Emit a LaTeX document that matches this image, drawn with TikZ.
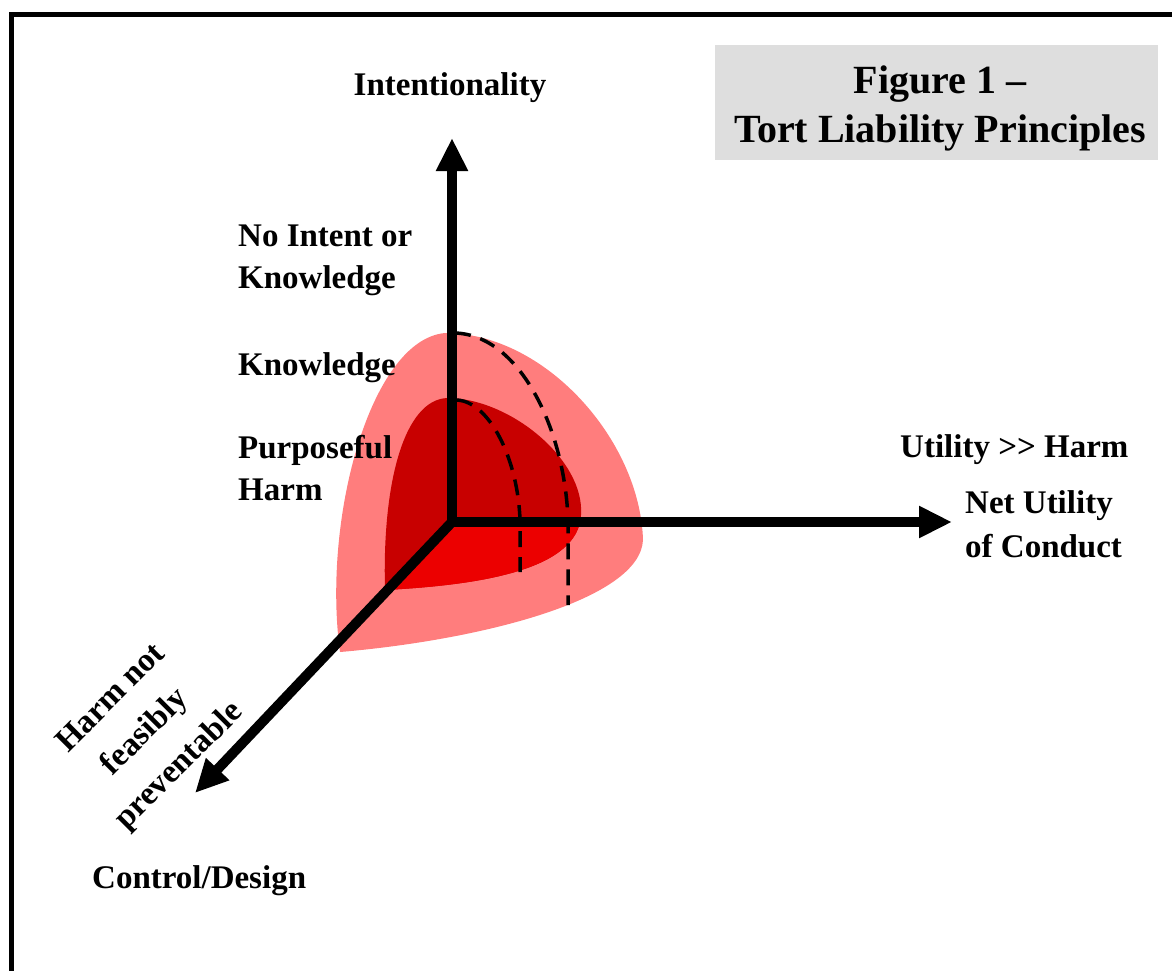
\documentclass[tikz,border=0pt]{standalone}
\usepackage{fontspec}
\setmainfont{Liberation Serif}
\usetikzlibrary{arrows.meta}
\definecolor{outerpink}{RGB}{255,125,125}
\definecolor{innerred}{RGB}{200,0,0}
\definecolor{facered}{RGB}{236,0,0}
\definecolor{boxgray}{RGB}{222,222,222}
\newcommand{\innerblob}{(447,398) .. controls (510,398) and (585,460) .. (581,515) .. controls (578,570) and (480,585) .. (385,590) .. controls (382,480) and (405,400) .. (447,398) -- cycle}

\begin{document}
\begin{tikzpicture}[x=1pt,y=-1pt,
		lbl/.style={font=\fontsize{33}{42}\selectfont\bfseries, inner sep=0pt, anchor=base west},
		ttl/.style={font=\fontsize{40}{49}\selectfont\bfseries, inner sep=0pt, anchor=base},
		axis/.style={line width=10pt, line cap=round, -{Triangle[length=33pt,width=30pt]}},
		level/.style={line width=3.5pt, dash pattern=on 16pt off 10pt}]
		\useasboundingbox (0,0) rectangle (1172,970);
		\clip (0,0) rectangle (1172,970);
		\draw[line width=5.5pt] (11.5,14.5) rectangle (1300,1100);

		% title box
		\node[fill=boxgray, minimum width=443pt, minimum height=115pt, inner sep=0pt] (title) at (936.5,102.5) {};
		\node[ttl] (fig) at (940,93) {Figure 1 --};
		\node[ttl] (tlp) at (940,142) {Tort Liability Principles};

		% regions
		\fill[outerpink] (445,333) .. controls (545,333) and (640,440) .. (643,540) .. controls (640,600) and (480,640) .. (340,652) .. controls (322,520) and (370,340) .. (445,333) -- cycle;
		\fill[innerred] \innerblob;
		\begin{scope}
			\clip \innerblob;
			\fill[facered] (452,522) -- (700,522) -- (700,800) -- (195,793) -- cycle;
		\end{scope}
		\draw[level] (455,333) .. controls (520,335) and (565,430) .. (568,520) -- (568,605);
		\draw[level] (457,400) .. controls (490,402) and (518,460) .. (520,520) -- (520,572);

		% axes
		\coordinate (O) at (452,522);
		\coordinate (ytip) at (452,138);
		\coordinate (xtip) at (952,522);
		\coordinate (ztip) at (195,793);
		\draw[axis] (O) -- (ytip);
		\draw[axis] (O) -- (xtip);
		\draw[axis] (O) -- (ztip);

		% labels
		\node[lbl, anchor=base] (intent) at (450,95) {Intentionality};
		\node[lbl] (nointent) at (238,246) {No Intent or};
		\node[lbl] (nointent2) at (238,288) {Knowledge};
		\node[lbl] (knowledge) at (238,375) {Knowledge};
		\node[lbl] (purpose) at (238,458) {Purposeful};
		\node[lbl] (purpose2) at (238,500) {Harm};
		\node[lbl] (utility) at (900,457) {Utility {>}{>} Harm};
		\node[lbl] (netutil) at (965,513) {Net Utility};
		\node[lbl] (netutil2) at (965,557) {of Conduct};
		\node[lbl] (control) at (92,888) {Control/Design};
		\node[lbl, font=\fontsize{33}{48}\selectfont\bfseries, anchor=center, align=center, rotate=45] (notprev) at (146,733) {Harm not\\feasibly\\preventable};
	\end{tikzpicture}
\end{document}
